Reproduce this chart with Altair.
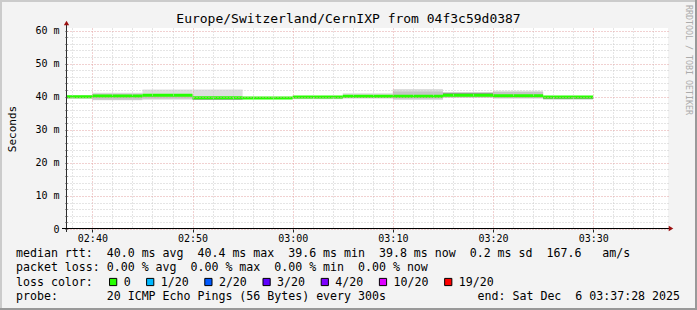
import altair as alt
import pandas as pd

FONT = "DejaVu Sans Mono"

# ---------------- data ----------------
title_text = "Europe/Switzerland/CernIXP from 04f3c59d0387"
watermark = "RRDTOOL / TOBI OETIKER"

window_start = "02:37:28"
window_end = "03:37:28"

interval_start = ["02:35", "02:40", "02:45", "02:50", "02:55", "03:00",
                  "03:05", "03:10", "03:15", "03:20", "03:25"]
interval_minutes = 5
median_ms = [40.0, 40.2, 40.4, 39.7, 39.6, 39.9, 40.1, 40.1, 40.4, 40.3, 39.9]
# smoke (spread of the 20 pings), outer and inner bands
smoke_outer_lo = [39.4, 38.9, 39.1, 39.0, 39.4, 39.2, 39.4, 39.0, 39.6, 39.4, 39.2]
smoke_outer_hi = [40.4, 41.2, 42.2, 42.2, 39.8, 40.0, 41.0, 42.3, 41.3, 41.8, 40.0]
smoke_mid_lo = [39.5, 39.1, 39.4, 39.2, 39.5, 39.4, 39.6, 39.4, 39.8, 39.6, 39.3]
smoke_mid_hi = [40.2, 40.9, 40.5, 39.8, 39.7, 40.0, 40.2, 41.6, 41.2, 41.4, 39.9]
smoke_core_lo = [None, None, None, 39.1, None, None, None, None, 40.5, None, 39.2]
smoke_core_hi = [None, None, None, 39.5, None, None, None, None, 41.2, None, 39.6]

y_max_label = 60
y_major_step = 10
y_minor_step = 2
x_major_step = 10
x_minor_step = 2

legend_rtt = "median rtt:  40.0 ms avg  40.4 ms max  39.6 ms min  39.8 ms now  0.2 ms sd  167.6   am/s"
legend_loss = "packet loss: 0.00 % avg  0.00 % max  0.00 % min  0.00 % now"
legend_color_title = "loss color:"
loss_labels = ["0", "1/20", "2/20", "3/20", "4/20", "10/20", "19/20"]
loss_colors = ["#26ff00", "#00b8ff", "#0059ff", "#5e00ff", "#7e00ff", "#dd00ff", "#ff0000"]
legend_probe = "probe:       20 ICMP Echo Pings (56 Bytes) every 300s"
legend_end = "end: Sat Dec  6 03:37:28 2025"

# ---------------- helpers ----------------
def to_min(s):
    parts = [int(p) for p in s.split(":")]
    h, m = parts[0], parts[1]
    sec = parts[2] if len(parts) > 2 else 0
    return (h - 2) * 60 + m + sec / 60.0


def nb(s):
    return s.replace(" ", "\u00a0")


x_dom = [to_min(window_start), to_min(window_end)]
starts = [to_min(s) for s in interval_start]
ends = [s + interval_minutes for s in starts]

rows = []
for band, lo_l, hi_l in [("outer", smoke_outer_lo, smoke_outer_hi),
                         ("mid", smoke_mid_lo, smoke_mid_hi),
                         ("core", smoke_core_lo, smoke_core_hi)]:
    for s, e, lo, hi in zip(starts, ends, lo_l, hi_l):
        if lo is None:
            continue
        rows.append({"band": band, "start": s, "end": e, "lo": lo, "hi": hi})
smoke_df = pd.DataFrame(rows)
med_df = pd.DataFrame({"start": starts, "end": ends, "lo": median_ms})

W, H = 601, 201
LEFT, TOP = 67, 28
Y_TOP = 60.76

MAJOR = "#e2a3a3"
MINOR = "#cacaca"
DASH = [1, 2]

x_vals = [v for v in range(int(x_dom[0]) + 1, int(x_dom[1]) + 1) if v % x_minor_step == 0]
y_vals = list(range(0, y_max_label + 1, y_minor_step))

x_label_expr = (
    f"datum.value % {x_major_step} == 0 ? ('0' + (2 + floor(datum.value / 60)) + ':' + "
    "(datum.value % 60 < 10 ? '0' : '') + (datum.value % 60)) : ''"
)
y_label_expr = (
    f"datum.value % {y_major_step} == 0 ? (datum.value == 0 ? '0\u00a0\u00a0' : datum.value + ' m') : ''"
)

x_axis = alt.Axis(
    values=x_vals, labelExpr=x_label_expr, title=None,
    grid=True,
    gridColor={"condition": {"test": f"datum.value % {x_major_step} == 0", "value": MAJOR}, "value": MINOR},
    gridDash=DASH, gridWidth=1,
    domain=False, ticks=True, tickSize=3, tickColor="#222",
    tickOpacity={"condition": {"test": f"datum.value % {x_major_step} == 0", "value": 1}, "value": 0},
    labelFont=FONT, labelFontSize=10, labelColor="black", labelPadding=1,
    labelOverlap=False, labelFlush=False, zindex=1,
)
y_axis = alt.Axis(
    values=y_vals, labelExpr=y_label_expr,
    title="Seconds", titleX=-55, titleY=H / 2, titleAngle=270, titleAlign="center",
    titleBaseline="middle", titleFont=FONT, titleFontSize=11, titleFontWeight="normal",
    titleColor="black",
    grid=True,
    gridColor={"condition": {"test": f"datum.value % {y_major_step} == 0", "value": MAJOR}, "value": MINOR},
    gridDash=DASH, gridWidth=1,
    domain=False, ticks=True, tickSize=2, tickColor="#444",
    labelFont=FONT, labelFontSize=10, labelColor="black", labelPadding=6,
    labelOverlap=False, labelFlush=False, zindex=1,
)
x_scale = alt.Scale(domain=x_dom, nice=False, zero=False)
y_scale = alt.Scale(domain=[0, Y_TOP], nice=False, zero=True)

smoke = alt.Chart(smoke_df).mark_rect(clip=True).encode(
    x=alt.X("start:Q", scale=x_scale, axis=x_axis),
    x2="end:Q",
    y=alt.Y("lo:Q", scale=y_scale, axis=y_axis),
    y2="hi:Q",
    color=alt.Color("band:N", scale=alt.Scale(domain=["outer", "mid", "core"],
                                              range=["#dddddd", "#c4c4c4", "#9a9a9a"]), legend=None),
)

median = alt.Chart(med_df).mark_rule(clip=True, strokeWidth=3, color="#26ff00").encode(
    x=alt.X("start:Q", scale=x_scale, axis=x_axis), x2="end:Q",
    y=alt.Y("lo:Q", scale=y_scale, axis=y_axis)
)

one = pd.DataFrame({"k": [0]})
AXIS_COL = "#2c2c2c"
ARROW = "#9b1010"
yline = alt.Chart(one).mark_rule(color=AXIS_COL, strokeWidth=1).encode(
    x=alt.value(-0.5), y=alt.value(-5), y2=alt.value(H + 3))
xline = alt.Chart(one).mark_rule(color="black", strokeWidth=1).encode(
    x=alt.value(-5), x2=alt.value(W + 2), y=alt.value(H - 0.5))
yarrow = alt.Chart(one).mark_point(shape="triangle-up", filled=True, size=28, color=ARROW, opacity=1).encode(
    x=alt.value(-0.5), y=alt.value(-5))
xarrow = alt.Chart(one).mark_point(shape="triangle-right", filled=True, size=28, color=ARROW, opacity=1).encode(
    x=alt.value(W + 3), y=alt.value(H - 0.5))

title = alt.Chart(one).mark_text(font=FONT, fontSize=13, color="black", align="center",
                                 baseline="middle", text=title_text).encode(
    x=alt.value(348.5 - LEFT), y=alt.value(19 - TOP))
wm = alt.Chart(one).mark_text(font=FONT, fontSize=8.3, color="#ababab", align="center",
                              baseline="middle", angle=90, text=watermark).encode(
    x=alt.value(688 - LEFT), y=alt.value(60 - TOP))

LX = 16 - LEFT
LY = [253.5 - TOP, 268 - TOP, 282.5 - TOP, 297 - TOP]
LFS = 11.6
CW = 7.05


def ltext(txt, x, y, align="left"):
    return alt.Chart(one).mark_text(font=FONT, fontSize=LFS, color="black", align=align,
                                    baseline="middle", text=nb(txt)).encode(
        x=alt.value(x), y=alt.value(y))


leg = [
    ltext(legend_rtt, LX, LY[0]),
    ltext(legend_loss, LX, LY[1]),
    ltext(legend_color_title, LX, LY[2]),
    ltext(legend_probe, LX, LY[3]),
    ltext(legend_end, 680 - LEFT, LY[3], align="right"),
]

# swatch layout derived from label lengths
sw_rows = []
pos = 16 + 13 * CW + 2
for lab, col in zip(loss_labels, loss_colors):
    tx = pos + 14
    sw_rows.append({"label": lab, "color": col, "sx": pos + 3.5 - LEFT, "tx": tx - LEFT})
    pos = tx + len(lab) * CW + 16
sw_df = pd.DataFrame(sw_rows)

swatch = alt.Chart(sw_df).mark_square(size=52, filled=True, stroke="black", strokeWidth=1, opacity=1).encode(
    x=alt.X("sx:Q", scale=None, axis=None), y=alt.value(LY[2] - 0.5),
    fill=alt.Fill("color:N", scale=None, legend=None))
swlab = alt.Chart(sw_df).mark_text(font=FONT, fontSize=LFS, color="black", align="left",
                                   baseline="middle").encode(
    x=alt.X("tx:Q", scale=None, axis=None), y=alt.value(LY[2]), text="label:N")

# 3D border
SHADEA, SHADEB = "#cbcbcb", "#999999"
b_top = alt.Chart(one).mark_rule(color=SHADEA, strokeWidth=2).encode(
    x=alt.value(-LEFT), x2=alt.value(697 - LEFT), y=alt.value(1 - TOP))
b_left = alt.Chart(one).mark_rule(color=SHADEA, strokeWidth=2).encode(
    x=alt.value(1 - LEFT), y=alt.value(-TOP), y2=alt.value(310 - TOP))
b_right = alt.Chart(one).mark_rule(color=SHADEB, strokeWidth=2).encode(
    x=alt.value(696 - LEFT), y=alt.value(-TOP), y2=alt.value(310 - TOP))
b_bot = alt.Chart(one).mark_rule(color=SHADEB, strokeWidth=2).encode(
    x=alt.value(-LEFT), x2=alt.value(697 - LEFT), y=alt.value(309 - TOP))

chart = alt.layer(
    smoke, median, yline, xline, yarrow, xarrow, title, wm, *leg, swatch, swlab,
    b_top, b_left, b_right, b_bot,
).properties(
    width=W, height=H, background="#f3f3f3",
    padding={"left": LEFT, "top": TOP, "right": 697 - LEFT - W, "bottom": 310 - TOP - H},
    autosize=alt.AutoSizeParams(type="none"),
).configure_view(fill="white", stroke=None)

chart.save("out.html", embed_options={"renderer": "svg", "actions": False})
